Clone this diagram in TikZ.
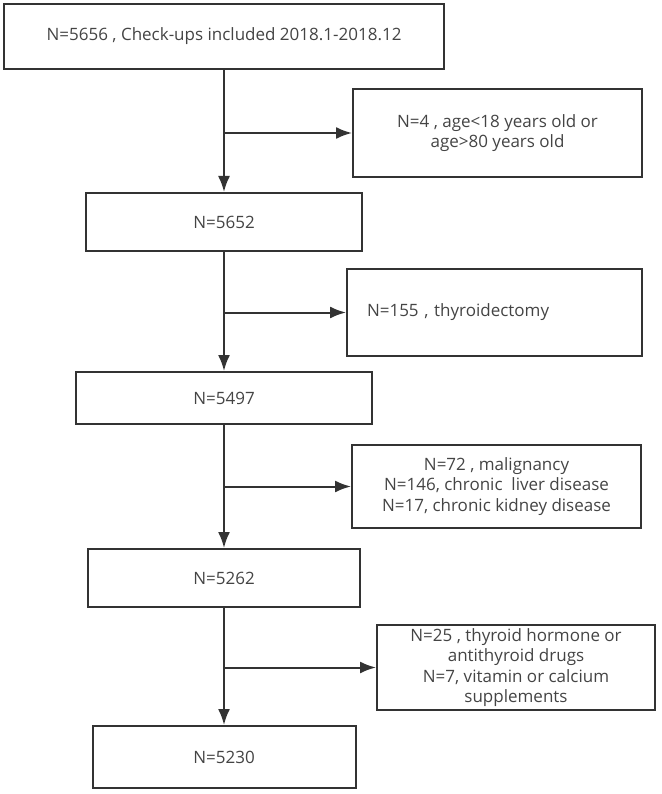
\documentclass[tikz,border=0pt]{standalone}
\usepackage{fontspec}
\setmainfont{Open Sans}
\usetikzlibrary{arrows.meta}
\definecolor{boxline}{HTML}{333333}
\definecolor{boxtext}{HTML}{444444}

\begin{document}
\begin{tikzpicture}[x=1pt, y=-1pt,
		font=\fontsize{17}{20.5}\selectfont, text=boxtext,
		box/.style={draw=boxline, line width=2pt, rectangle, inner sep=0pt, align=center},
		flow/.style={draw=boxline, line width=2pt, -{Latex[length=16pt, width=12pt]}}
	]
		\useasboundingbox (0,0) rectangle (661,794);
		% main column
		\node[box, minimum width=440, minimum height=65] (all) at (224,36.5) {N=5656 , Check-ups included 2018.1-2018.12};
		\node[box, minimum width=276, minimum height=58] (n5652) at (224,222) {N=5652};
		\node[box, minimum width=296, minimum height=52] (n5497) at (224,398) {N=5497};
		\node[box, minimum width=272, minimum height=58] (n5262) at (224,578) {N=5262};
		\node[box, minimum width=263, minimum height=62] (n5230) at (224,757) {N=5230};
		% excluded
		\node[box, minimum width=289, minimum height=88] (age) at (497.5,133) {N=4 , age<18 years old or\\age>80 years old};
		\node[box, minimum width=295, minimum height=87, text width=255pt, inner xsep=20pt, align=left] (thyroid) at (494.5,312.5) {N=155 , thyroidectomy};
		\node[box, minimum width=289, minimum height=83] (disease) at (496.5,486.5) {N=72 , malignancy\\N=146, chronic\ \ liver disease\\N=17, chronic kidney disease};
		\node[box, minimum width=278, minimum height=85] (drugs) at (516,667.5) {N=25 , thyroid hormone or\\antithyroid drugs\\N=7, vitamin or calcium\\supplements};
		% branch points
		\coordinate (b1) at (224,133);
		\coordinate (b2) at (224,312.5);
		\coordinate (b3) at (224,486.5);
		\coordinate (b4) at (224,667.5);
		% arrows down
		\draw[flow] (all.south -| b1) -- (n5652.north -| b1);
		\draw[flow] (n5652.south -| b2) -- (n5497.north -| b2);
		\draw[flow] (n5497.south -| b3) -- (n5262.north -| b3);
		\draw[flow] (n5262.south -| b4) -- (n5230.north -| b4);
		% arrows right
		\draw[flow] (b1) -- (age.west);
		\draw[flow] (b2) -- (thyroid.west);
		\draw[flow] (b3) -- (disease.west);
		\draw[flow] (b4) -- (drugs.west);
\end{tikzpicture}
\end{document}
